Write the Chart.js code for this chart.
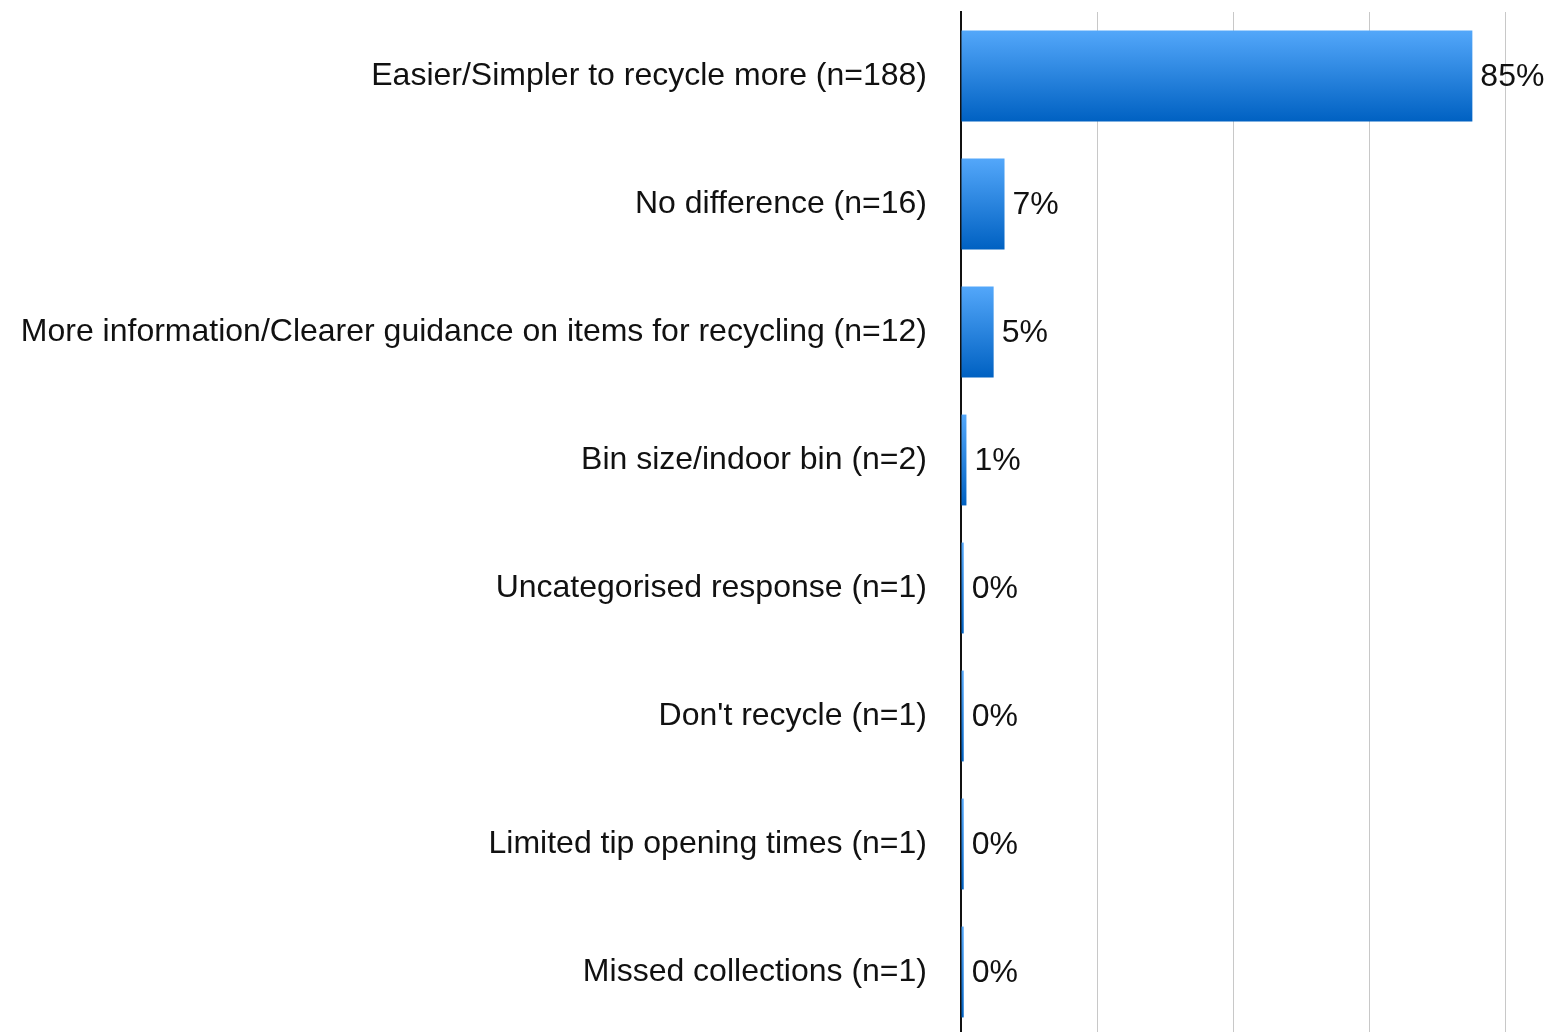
<!DOCTYPE html>
<html>
<head>
<meta charset="utf-8">
<script src="https://cdn.jsdelivr.net/npm/chart.js@4"></script>
<style>
html,body{margin:0;padding:0;background:#fff;overflow:hidden;}
canvas{display:block;}
</style>
</head>
<body>
<canvas id="c" width="1560" height="1040"></canvas>
<script>
const categories = [
  "Easier/Simpler to recycle more (n=188)",
  "No difference (n=16)",
  "More information/Clearer guidance on items for recycling (n=12)",
  "Bin size/indoor bin (n=2)",
  "Uncategorised response (n=1)",
  "Don't recycle (n=1)",
  "Limited tip opening times (n=1)",
  "Missed collections (n=1)"
];
const counts = [188, 16, 12, 2, 1, 1, 1, 1];
const percentLabels = ["85%", "7%", "5%", "1%", "0%", "0%", "0%", "0%"];

const FONT = "'Liberation Sans', Arial, Helvetica, sans-serif";
const BAR_PCT = 0.71;

const ctx = document.getElementById('c').getContext('2d');

function barGradient(context) {
  const chart = context.chart;
  const ys = chart.scales && chart.scales.y;
  const area = chart.chartArea;
  if (!ys || !area) return '#2a86e6';
  const center = ys.getPixelForValue(context.dataIndex);
  const h = (area.bottom - area.top) / categories.length * BAR_PCT;
  const top = center - h / 2, bottom = center + h / 2;
  if (!isFinite(top) || !isFinite(bottom)) return '#2a86e6';
  const g = chart.ctx.createLinearGradient(0, top, 0, bottom);
  g.addColorStop(0, '#53a7fa');
  g.addColorStop(1, '#0061c2');
  return g;
}

const valueLabels = {
  id: 'valueLabels',
  afterDatasetsDraw(chart) {
    const c = chart.ctx;
    const meta = chart.getDatasetMeta(0);
    c.save();
    c.font = "32px " + FONT;
    c.fillStyle = '#111';
    c.textAlign = 'left';
    c.textBaseline = 'middle';
    meta.data.forEach((bar, i) => {
      c.fillText(percentLabels[i], bar.x + 8, bar.y + 1);
    });
    c.restore();
  }
};

new Chart(ctx, {
  type: 'bar',
  data: {
    labels: categories,
    datasets: [{
      data: counts,
      backgroundColor: barGradient,
      borderWidth: 0,
      barPercentage: BAR_PCT,
      categoryPercentage: 1.0
    }]
  },
  options: {
    indexAxis: 'y',
    responsive: false,
    animation: false,
    devicePixelRatio: 1,
    layout: { padding: { top: 12, right: 55, bottom: 4, left: 0 } },
    plugins: { legend: { display: false }, tooltip: { enabled: false } },
    scales: {
      x: {
        min: 0, max: 200,
        ticks: { display: false, stepSize: 50 },
        grid: { color: '#c8c8c8', lineWidth: 1, drawTicks: false },
        border: { display: false }
      },
      y: {
        ticks: { color: '#111', font: { family: FONT, size: 32 }, padding: 34 },
        grid: { display: false, drawTicks: false },
        border: { display: true, color: '#111', width: 2 },
        afterFit(scale) {
          scale.width = 961;
          scale.paddingTop = 0;
          scale.paddingBottom = 0;
        }
      }
    }
  },
  plugins: [valueLabels]
});
</script>
</body>
</html>
